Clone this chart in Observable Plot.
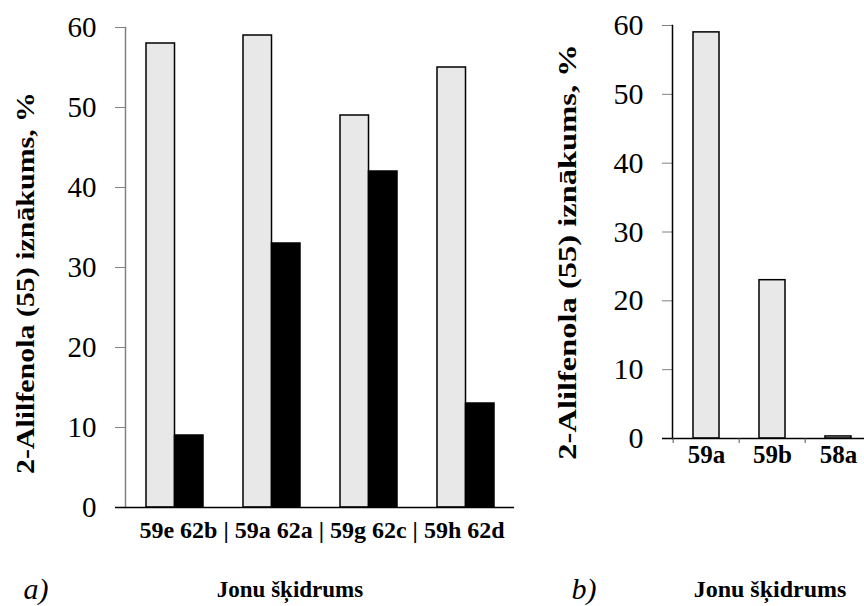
<!DOCTYPE html>
<html>
<head>
<meta charset="utf-8">
<script src="https://cdn.jsdelivr.net/npm/d3@7"></script>
<script src="https://cdn.jsdelivr.net/npm/@observablehq/plot@0.6"></script>
<style>
  html, body { margin: 0; padding: 0; background: #fff; }
  #wrap { position: relative; width: 864px; height: 606px; overflow: hidden; background: #fff; }
  .abs { position: absolute; white-space: nowrap; line-height: 1; color: #000; font-family: "Liberation Serif", "DejaVu Serif", serif; }
</style>
</head>
<body>
<div id="wrap"></div>
<script>
// ---- data ----
const groupsA = ["59e 62b", "59a 62a", "59g 62c", "59h 62d"];
const lightA = [58, 59, 49, 55];   // 59x ionic liquids
const darkA  = [9, 33, 42, 13];    // 62x ionic liquids
const catsB = ["59a", "59b", "58a"];
const valuesB = [59, 23, 0.3];
const yTicks = [0, 10, 20, 30, 40, 50, 60];
const yLabel = "2-Alilfenola (55) iznākums, %";
const xLabel = "Jonu šķidrums";

const SERIF = '"Liberation Serif", "DejaVu Serif", serif';
const wrap = document.getElementById("wrap");
const rowsLight = groupsA.map((g, i) => ({group: g, value: lightA[i]}));
const rowsDark  = groupsA.map((g, i) => ({group: g, value: darkA[i]}));
const rowsB = catsB.map((c, i) => ({cat: c, value: valuesB[i]}));

// ---- chart a ----
const wA = 540, mLA = 125, mRA = 26;
const stepA = (wA - mLA - mRA) / groupsA.length;
const padA = 0.414;
const halfA = stepA * (1 - padA) / 2;
const chartA = Plot.plot({
  width: wA, height: 606,
  marginLeft: mLA, marginRight: mRA, marginTop: 27, marginBottom: 99,
  style: {background: "transparent", overflow: "visible", fontFamily: SERIF},
  x: {domain: groupsA, paddingInner: padA, paddingOuter: padA / 2, axis: null},
  y: {domain: [0, 60], axis: null},
  marks: [
    Plot.axisY({ticks: yTicks, tickSize: 10, tickPadding: 19, fontSize: 29, stroke: "#808080", color: "#000", label: null}),
    Plot.frame({anchor: "left", stroke: "#808080", strokeWidth: 1.5}),
    Plot.barY(rowsLight, {x: "group", y: "value", fill: "#e8e8e8", stroke: "#000", strokeWidth: 1.5, insetRight: halfA}),
    Plot.barY(rowsDark, {x: "group", y: "value", fill: "#000", stroke: "#000", strokeWidth: 1.5, insetLeft: halfA}),
    Plot.ruleY([0], {stroke: "#000", strokeWidth: 1.5, insetLeft: -10})
  ]
});
chartA.style.position = "absolute";
chartA.style.left = "0px";
chartA.style.top = "0px";
wrap.appendChild(chartA);

// ---- chart b ----
const wB = 340, mLB = 132, mRB = 8;
const stepB = (wB - mLB - mRB) / catsB.length;
const chartB = Plot.plot({
  width: wB, height: 606,
  marginLeft: mLB, marginRight: mRB, marginTop: 25, marginBottom: 168,
  style: {background: "transparent", overflow: "visible", fontFamily: SERIF},
  x: {domain: catsB, paddingInner: 0.6, paddingOuter: 0.3, axis: null},
  y: {domain: [0, 60], axis: null},
  marks: [
    Plot.axisY({ticks: yTicks, tickSize: 10, tickPadding: 19, fontSize: 30, stroke: "#808080", color: "#000", label: null}),
    Plot.frame({anchor: "left", stroke: "#000", strokeWidth: 1.5}),
    Plot.barY(rowsB, {x: "cat", y: "value", fill: "#e8e8e8", stroke: "#000", strokeWidth: 1.5}),
    Plot.ruleY([0], {stroke: "#000", strokeWidth: 1.5, insetLeft: -10}),
    Plot.axisX({tickSize: 5, tickFormat: () => "", dx: -stepB / 2, stroke: "#555", label: null}),
    Plot.axisX({tickSize: 0, tickPadding: 7, fontSize: 25, fontWeight: "bold", color: "#000", label: null})
  ]
});
chartB.style.position = "absolute";
chartB.style.left = "540px";
chartB.style.top = "0px";
wrap.appendChild(chartB);

// enforce serif tick-label fonts (inline style wins over any stylesheet)
d3.select(chartA).selectAll("text").style("font-family", SERIF).style("font-size", "29px").style("font-variant", "normal");
d3.select(chartB).selectAll('g[aria-label="y-axis tick label"] text').style("font-family", SERIF).style("font-size", "30px").style("font-variant", "normal");
d3.select(chartB).selectAll('g[aria-label="x-axis tick label"] text').style("font-family", SERIF).style("font-size", "25px").style("font-weight", "bold");

// ---- texts ----
function addText(txt, x, y, css, transform) {
  const d = document.createElement("div");
  d.className = "abs";
  d.textContent = txt;
  d.style.left = x + "px";
  d.style.top = y + "px";
  d.style.transform = transform;
  d.style.fontFamily = SERIF;
  Object.assign(d.style, css);
  wrap.appendChild(d);
}
const C = "translate(-50%, -50%)";
addText(yLabel, 26, 283, {fontSize: "26px", fontWeight: "bold"}, C + " rotate(-90deg) scale(1.15, 1)");
addText(yLabel, 568, 252, {fontSize: "26px", fontWeight: "bold"}, C + " rotate(-90deg) scale(1.25, 0.95)");
addText(groupsA.join(" | "), 322, 530, {fontSize: "24px", fontWeight: "bold"}, C);
addText("a)", 36, 589, {fontSize: "30px", fontStyle: "italic"}, C);
addText(xLabel, 290, 589, {fontSize: "23px", fontWeight: "bold"}, C);
addText("b)", 584, 589, {fontSize: "30px", fontStyle: "italic"}, C);
addText(xLabel, 770, 589, {fontSize: "24px", fontWeight: "bold"}, C);
</script>
</body>
</html>
